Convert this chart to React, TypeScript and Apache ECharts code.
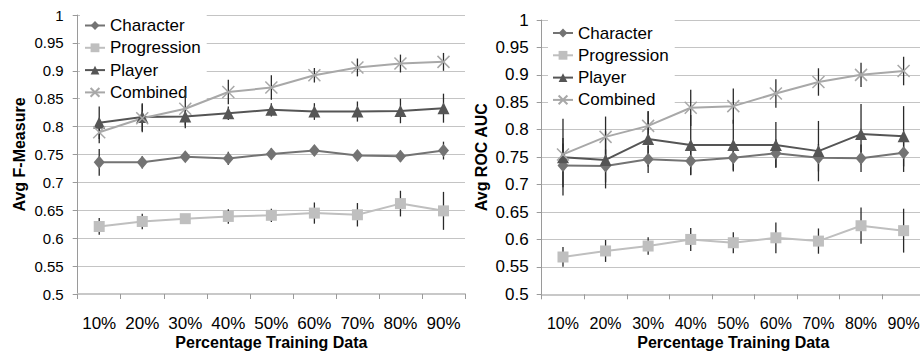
import React, { useEffect, useRef } from "react";
import * as echarts from "echarts";

const categories = ["10%", "20%", "30%", "40%", "50%", "60%", "70%", "80%", "90%"];
const seriesNames = ["Character", "Progression", "Player", "Combined"];
const yTicks = [0.5, 0.55, 0.6, 0.65, 0.7, 0.75, 0.8, 0.85, 0.9, 0.95, 1];

// Left chart: Avg F-Measure
const fmCharacter = [0.736, 0.736, 0.746, 0.743, 0.751, 0.757, 0.748, 0.747, 0.757];
const fmCharacterErr = [0.024, 0.011, 0.009, 0.012, 0.01, 0.009, 0.007, 0.01, 0.016];
const fmProgression = [0.621, 0.63, 0.635, 0.639, 0.641, 0.645, 0.642, 0.662, 0.649];
const fmProgressionErr = [0.015, 0.014, 0.005, 0.013, 0.012, 0.019, 0.021, 0.023, 0.034];
const fmPlayer = [0.807, 0.817, 0.818, 0.824, 0.83, 0.827, 0.827, 0.828, 0.833];
const fmPlayerErr = [0.029, 0.025, 0.016, 0.012, 0.012, 0.015, 0.018, 0.022, 0.026];
const fmCombined = [0.79, 0.815, 0.832, 0.862, 0.87, 0.892, 0.906, 0.913, 0.916];
const fmCombinedErr = [0.02, 0.025, 0.035, 0.022, 0.022, 0.013, 0.016, 0.016, 0.016];

// Right chart: Avg ROC AUC
const rocCharacter = [0.735, 0.734, 0.746, 0.743, 0.749, 0.757, 0.749, 0.748, 0.758];
const rocCharacterErr = [0.04, 0.03, 0.025, 0.025, 0.025, 0.025, 0.025, 0.025, 0.035];
const rocProgression = [0.568, 0.579, 0.588, 0.6, 0.594, 0.603, 0.597, 0.625, 0.616];
const rocProgressionErr = [0.018, 0.02, 0.016, 0.021, 0.019, 0.028, 0.023, 0.033, 0.04];
const rocPlayer = [0.75, 0.745, 0.783, 0.772, 0.772, 0.772, 0.761, 0.792, 0.788];
const rocPlayerErr = [0.07, 0.052, 0.05, 0.055, 0.046, 0.042, 0.055, 0.055, 0.055];
const rocCombined = [0.755, 0.787, 0.807, 0.84, 0.843, 0.866, 0.887, 0.9, 0.907];
const rocCombinedErr = [0.03, 0.037, 0.027, 0.033, 0.032, 0.026, 0.025, 0.022, 0.026];

const FONT = "'Liberation Sans', Arial, Helvetica, sans-serif";
const colors = ["#737373", "#bfbfbf", "#555555", "#a8a8a8"];
const XSYM = "path://M0,0L10,10M0,10L10,0";
const symbols = ["diamond", "rect", "triangle", XSYM];
const symbolSizes = [[11, 13], 11, 12, 12];

function lineSeries(idx: number, name: string, values: number[], axis: number) {
  const isX = idx === 3;
  return {
    type: "line",
    name,
    xAxisIndex: axis,
    yAxisIndex: axis,
    data: values,
    symbol: symbols[idx],
    symbolSize: symbolSizes[idx],
    showSymbol: true,
    z: 4,
    lineStyle: { color: colors[idx], width: 2 },
    itemStyle: isX
      ? { color: "rgba(0,0,0,0)", borderColor: colors[idx], borderWidth: 1.5 }
      : { color: colors[idx], borderWidth: 0 },
    emphasis: { disabled: true },
  };
}

function errSeries(name: string, values: number[], errs: number[], axis: number) {
  return {
    type: "custom",
    name: name + " error",
    xAxisIndex: axis,
    yAxisIndex: axis,
    z: 3,
    data: values.map((v, i) => [i, v - errs[i], v + errs[i]]),
    encode: { x: 0, y: [1, 2] },
    renderItem: (params: any, api: any) => {
      const x = api.value(0);
      const lo = api.coord([x, api.value(1)]);
      const hi = api.coord([x, api.value(2)]);
      return {
        type: "line",
        shape: { x1: lo[0], y1: lo[1], x2: hi[0], y2: hi[1] },
        style: { stroke: "#2a2a2a", lineWidth: 1.3 },
      };
    },
  };
}

function yAxis(grid: number, name: string, labelSize: number, nameGap: number, margin: number) {
  return {
    type: "value",
    gridIndex: grid,
    min: yTicks[0],
    max: yTicks[yTicks.length - 1],
    interval: 0.05,
    name,
    nameLocation: "middle",
    nameGap,
    nameMoveOverlap: false,
    nameTextStyle: { fontFamily: FONT, fontWeight: "bold", fontSize: 16, color: "#000" },
    axisLine: { show: true, lineStyle: { color: "#9a9a9a", width: 1 } },
    axisTick: { show: true, length: 5, lineStyle: { color: "#9a9a9a" } },
    splitLine: { show: true, lineStyle: { color: "#c4c4c4", width: 1 } },
    axisLabel: {
      fontFamily: FONT,
      fontSize: labelSize,
      color: "#000",
      margin,
      formatter: (v: number) => String(+v.toFixed(2)),
    },
  };
}

function xAxis(grid: number, labelSize: number, nameGap: number) {
  return {
    type: "category",
    gridIndex: grid,
    data: categories,
    boundaryGap: true,
    name: "Percentage Training Data",
    nameLocation: "middle",
    nameGap,
    nameMoveOverlap: false,
    nameTextStyle: { fontFamily: FONT, fontWeight: "bold", fontSize: 16, color: "#000" },
    axisLine: { show: true, lineStyle: { color: "#c8c8c8", width: 2 } },
    axisTick: { show: true, length: 5, interval: 0, alignWithLabel: false, lineStyle: { color: "#9a9a9a" } },
    axisLabel: { fontFamily: FONT, fontSize: labelSize, color: "#000", margin: 21, interval: 0 },
    splitLine: { show: false },
  };
}

function legend(left: number, top: number) {
  return {
    orient: "vertical",
    left,
    top,
    data: seriesNames,
    itemWidth: 20,
    itemHeight: 11,
    itemGap: 2.3,
    padding: [4, 6, 4, 4],
    backgroundColor: "#ffffff",
    z: 2,
    selectedMode: false,
    textStyle: { fontFamily: FONT, fontSize: 17, color: "#000", lineHeight: 20 },
  };
}

export default function App() {
  const ref = useRef<HTMLDivElement>(null);
  useEffect(() => {
    if (!ref.current) return;
    const chart = echarts.init(ref.current, null, { renderer: "svg" });
    const option = {
      animation: false,
      backgroundColor: "#ffffff",
      grid: [
        { left: 77.7, top: 15, width: 387.3, height: 279, containLabel: false, outerBoundsMode: "none" },
        { left: 541.7, top: 20, width: 383.2, height: 274.3, containLabel: false, outerBoundsMode: "none" },
      ],
      xAxis: [xAxis(0, 17, 40), xAxis(1, 16, 40.5)],
      yAxis: [yAxis(0, "Avg F-Measure", 15, 50, 14), yAxis(1, "Avg ROC AUC", 17, 52, 13)],
      legend: [legend(80, 11.5), legend(548, 19)],
      series: [
        errSeries("Character", fmCharacter, fmCharacterErr, 0),
        errSeries("Progression", fmProgression, fmProgressionErr, 0),
        errSeries("Player", fmPlayer, fmPlayerErr, 0),
        errSeries("Combined", fmCombined, fmCombinedErr, 0),
        lineSeries(0, "Character", fmCharacter, 0),
        lineSeries(1, "Progression", fmProgression, 0),
        lineSeries(2, "Player", fmPlayer, 0),
        lineSeries(3, "Combined", fmCombined, 0),
        errSeries("Character", rocCharacter, rocCharacterErr, 1),
        errSeries("Progression", rocProgression, rocProgressionErr, 1),
        errSeries("Player", rocPlayer, rocPlayerErr, 1),
        errSeries("Combined", rocCombined, rocCombinedErr, 1),
        lineSeries(0, "Character", rocCharacter, 1),
        lineSeries(1, "Progression", rocProgression, 1),
        lineSeries(2, "Player", rocPlayer, 1),
        lineSeries(3, "Combined", rocCombined, 1),
      ],
    };
    chart.setOption(option as any);
    return () => chart.dispose();
  }, []);
  return (
    <div
      ref={ref}
      style={{ position: "absolute", left: 0, top: 0, width: 920, height: 351, background: "#fff" }}
    />
  );
}
